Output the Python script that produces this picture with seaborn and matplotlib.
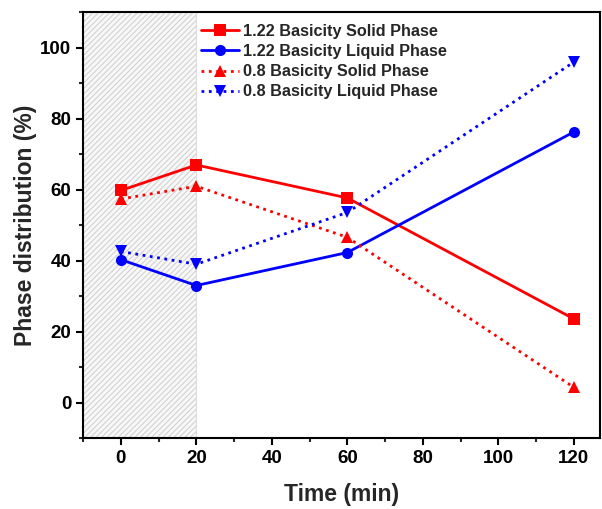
import matplotlib
matplotlib.use("Agg")
import matplotlib.pyplot as plt
import seaborn as sns
import pandas as pd
from matplotlib.ticker import MultipleLocator

time = [0, 20, 60, 120]
solid_122 = [59.8, 67.0, 57.7, 23.6]
liquid_122 = [40.3, 33.0, 42.3, 76.3]
solid_08 = [57.4, 61.0, 46.6, 4.3]
liquid_08 = [42.6, 39.0, 53.6, 96.0]
labels = ["1.22 Basicity Solid Phase", "1.22 Basicity Liquid Phase",
          "0.8 Basicity Solid Phase", "0.8 Basicity Liquid Phase"]

sns.set_style("ticks")
plt.rcParams['font.family'] = ['Liberation Sans', 'DejaVu Sans']
plt.rcParams['font.weight'] = 'bold'
plt.rcParams['hatch.linewidth'] = 0.8

fig = plt.figure(figsize=(6.02, 5.09), dpi=100)
ax = fig.add_axes([0.138, 0.1395, 0.859, 0.836])

ax.axvspan(-10, 20, facecolor='#f8f8f8', edgecolor='#d2d2d2', hatch='//////', linewidth=0, zorder=0)
ax.axvline(20, color='#dcdcdc', lw=0.8, zorder=0.5)

series = [solid_122, liquid_122, solid_08, liquid_08]
colors = ['#ff0000', '#0000ff', '#ff0000', '#0000ff']
markers = ['s', 'o', '^', 'v']
styles = ['-', '-', ':', ':']
for vals, lab, c, m, ls in zip(series, labels, colors, markers, styles):
    df = pd.DataFrame({'Time': time, 'Value': vals})
    sns.lineplot(data=df, x='Time', y='Value', ax=ax, color=c, marker=m,
                 markersize=8, markeredgewidth=0, linewidth=2.0, linestyle=ls,
                 label=lab, zorder=3)

ax.set_xlim(-10, 127)
ax.set_ylim(-10, 110)
ax.xaxis.set_major_locator(MultipleLocator(20))
ax.xaxis.set_minor_locator(MultipleLocator(10))
ax.yaxis.set_major_locator(MultipleLocator(20))
ax.yaxis.set_minor_locator(MultipleLocator(10))
ax.set_xticks([0, 20, 40, 60, 80, 100, 120])
ax.set_yticks([0, 20, 40, 60, 80, 100])
ax.tick_params(which='major', direction='out', length=5, width=1.5, labelsize=13.5, colors='black')
ax.tick_params(which='minor', direction='out', length=3, width=1.5)
for lbl in ax.get_xticklabels() + ax.get_yticklabels():
    lbl.set_fontweight('bold')
for s in ax.spines.values():
    s.set_linewidth(1.5)
    s.set_color('black')

ax.set_xlabel('Time (min)', fontsize=16.5, fontweight='bold', labelpad=12)
ax.set_ylabel('Phase distribution (%)', fontsize=16.5, fontweight='bold', labelpad=2)

leg = ax.legend(loc='upper left', bbox_to_anchor=(0.207, 1.0), frameon=False,
                prop={'weight': 'bold', 'size': 11.7}, handlelength=2.3,
                labelspacing=0.32, handletextpad=0.25, borderaxespad=0.3)

fig.savefig('out.png', dpi=100)
